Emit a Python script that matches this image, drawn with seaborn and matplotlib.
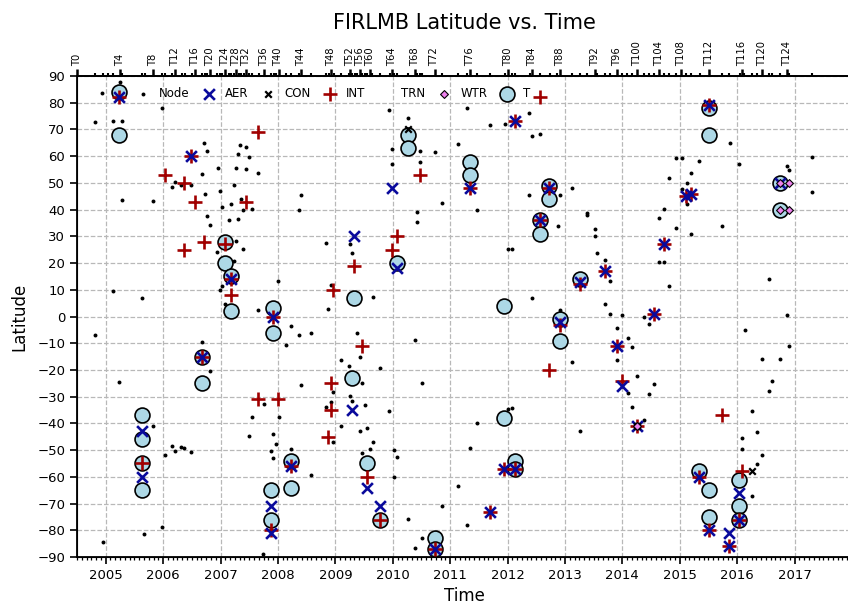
import numpy as np
import pandas as pd
import matplotlib
matplotlib.use("Agg")
import matplotlib.pyplot as plt
import seaborn as sns
from matplotlib.lines import Line2D
from matplotlib.ticker import FixedLocator, MultipleLocator

# ---------------- data ----------------
# Titan flybys (top axis)
flyby_names = ["T0", "TA", "TB", "TC"] + [f"T{i}" for i in range(3, 127)]
flyby_dates = [
    "2004-07-02", "2004-10-26", "2004-12-13", "2005-01-14", "2005-02-15", "2005-03-31",
    "2005-04-16", "2005-08-22", "2005-09-07", "2005-10-28", "2005-12-26", "2006-01-15",
    "2006-02-27", "2006-03-19", "2006-04-30", "2006-05-20", "2006-07-02", "2006-07-22",
    "2006-09-07", "2006-09-23", "2006-10-09", "2006-10-25", "2006-12-12", "2006-12-28",
    "2007-01-13", "2007-01-29", "2007-02-22", "2007-03-10", "2007-03-26", "2007-04-10",
    "2007-04-26", "2007-05-12", "2007-05-28", "2007-06-13", "2007-06-29", "2007-07-19",
    "2007-08-31", "2007-10-02", "2007-11-19", "2007-12-05", "2007-12-20", "2008-01-05",
    "2008-02-22", "2008-03-25", "2008-05-12", "2008-05-28", "2008-07-31", "2008-11-03",
    "2008-11-19", "2008-12-05", "2008-12-21", "2009-02-07", "2009-03-27", "2009-04-04",
    "2009-04-20", "2009-05-05", "2009-05-21", "2009-06-06", "2009-06-22", "2009-07-08",
    "2009-07-24", "2009-08-09", "2009-08-25", "2009-10-12", "2009-12-12", "2009-12-28",
    "2010-01-12", "2010-01-28", "2010-04-05", "2010-05-20", "2010-06-05", "2010-06-21",
    "2010-07-07", "2010-09-24", "2010-11-11", "2011-02-18", "2011-04-19", "2011-05-08",
    "2011-06-20", "2011-09-12", "2011-12-13", "2012-01-02", "2012-01-30", "2012-02-19",
    "2012-05-22", "2012-06-07", "2012-07-24", "2012-09-26", "2012-11-13", "2012-11-29",
    "2013-02-17", "2013-04-05", "2013-05-23", "2013-07-10", "2013-07-26", "2013-09-12",
    "2013-10-14", "2013-12-01", "2014-01-01", "2014-02-02", "2014-03-06", "2014-04-07",
    "2014-05-17", "2014-06-18", "2014-07-20", "2014-08-21", "2014-09-22", "2014-10-24",
    "2014-12-10", "2015-01-11", "2015-02-12", "2015-03-16", "2015-05-07", "2015-07-07",
    "2015-09-28", "2015-11-13", "2016-01-16", "2016-02-01", "2016-02-16", "2016-04-04",
    "2016-05-06", "2016-06-07", "2016-07-25", "2016-08-10", "2016-09-27", "2016-11-14",
    "2016-11-29", "2017-04-22",
]

year_ticks = list(range(2005, 2018))
lat_ticks = list(range(-90, 91, 10))

t_year = [2005.23, 2005.23, 2005.63, 2005.63, 2005.63, 2005.63, 2006.67, 2006.67,
          2007.07, 2007.07, 2007.18, 2007.18, 2007.88, 2007.88, 2007.92, 2007.92,
          2008.22, 2008.22, 2009.29, 2009.33, 2009.56, 2009.77, 2010.07, 2010.26,
          2010.26, 2010.73, 2010.73, 2011.34, 2011.34, 2011.94, 2011.94, 2012.13,
          2012.13, 2012.56, 2012.56, 2012.73, 2012.73, 2012.91, 2012.91, 2013.26,
          2015.34, 2015.51, 2015.51, 2015.51, 2015.51, 2016.03, 2016.03, 2016.03,
          2016.74, 2016.74]
t_lat = [84, 68, -37, -46, -55, -65, -15, -25, 28, 20, 15, 2, -65, -76, 3, -6,
         -54, -64, -23, 7, -55, -76, 20, 68, 63, -83, -87, 58, 53, 4, -38, -54,
         -57, 36, 31, 49, 44, -1, -9, 14, -58, 78, 68, -65, -75, -61, -71, -76,
         50, 40]

aer_year = [2005.23, 2005.63, 2005.63, 2006.49, 2006.67, 2007.18, 2007.88, 2007.88,
            2007.92, 2008.22, 2009.29, 2009.33, 2009.56, 2009.77, 2009.98, 2010.07,
            2010.73, 2011.34, 2011.69, 2011.93, 2012.13, 2012.13, 2012.56, 2012.73,
            2012.91, 2013.26, 2013.70, 2013.91, 2014.0, 2014.26, 2014.55, 2014.72,
            2015.10, 2015.20, 2015.34, 2015.51, 2015.51, 2015.86, 2015.86, 2016.03,
            2016.03, 2016.74]
aer_lat = [82, -43, -60, 60, -15, 14, -71, -81, 0, -56, -35, 30, -64, -71, 48, 18,
           -87, 48, -73, -57, 73, -57, 36, 48, -2, 13, 17, -11, -26, -41, 1, 27,
           45, 46, -60, 79, -80, -81, -86, -66, -76, 50]

int_year = [2005.23, 2005.63, 2006.03, 2006.37, 2006.37, 2006.49, 2006.55, 2006.67,
            2006.72, 2007.07, 2007.18, 2007.18, 2007.44, 2007.66, 2007.66, 2007.88,
            2007.92, 2008.0, 2008.22, 2008.88, 2008.92, 2008.92, 2008.96, 2009.33,
            2009.47, 2009.56, 2009.77, 2009.98, 2010.07, 2010.47, 2010.73, 2011.34,
            2011.69, 2011.93, 2012.13, 2012.13, 2012.56, 2012.56, 2012.73, 2012.73,
            2012.91, 2013.26, 2013.70, 2013.91, 2014.0, 2014.26, 2014.55, 2014.72,
            2015.10, 2015.20, 2015.34, 2015.51, 2015.51, 2015.74, 2015.86, 2016.03,
            2016.08]
int_lat = [82, -55, 53, 50, 25, 60, 43, -15, 28, 27, 14, 8, 43, 69, -31, -80, 0,
           -31, -56, -45, -25, -35, 10, 19, -11, -60, -76, 25, 30, 53, -87, 48, -73,
           -57, 73, -57, 82, 36, 48, -20, -3, 12, 17, -11, -24, -41, 1, 27, 45, 46,
           -60, 79, -80, -37, -86, -76, -58]

con_year = [2010.26, 2014.26, 2016.26]
con_lat = [70, -41, -58]

wtr_year = [2014.26, 2016.74, 2016.74, 2016.91, 2016.91]
wtr_lat = [-41, 50, 40, 50, 40]

node_year = [
    2004.94, 2005.25, 2005.98, 2004.81, 2005.12, 2005.29, 2006.72, 2006.77, 2007.34,
    2007.45, 2007.31, 2007.49, 2006.95, 2007.27, 2007.45, 2007.66, 2006.68, 2006.20,
    2006.15, 2006.32, 2006.49, 2007.23, 2006.73, 2006.99, 2005.29, 2005.82, 2007.03,
    2007.18, 2007.35, 2007.40, 2007.54, 2006.77, 2006.81, 2007.14, 2007.31, 2008.40,
    2008.36, 2007.27, 2007.40, 2006.94, 2007.23, 2008.83, 2005.12, 2005.63, 2007.03,
    2006.99, 2007.07, 2008.0, 2008.92, 2007.66, 2008.88, 2004.81, 2008.22, 2008.36,
    2008.58, 2008.14, 2006.67, 2006.81, 2005.24, 2008.40, 2009.10, 2008.96, 2007.75,
    2007.54, 2008.02, 2008.92, 2008.83, 2009.10, 2005.82, 2007.49, 2007.92, 2007.96,
    2007.88, 2007.92, 2008.96, 2006.15, 2006.20, 2006.32, 2006.37, 2006.49, 2006.03,
    2008.22, 2008.57, 2005.67, 2005.98, 2004.95, 2007.74,
    2009.94, 2010.26, 2011.29, 2011.70, 2011.95, 2012.38, 2012.43, 2012.56, 2011.13,
    2009.98, 2010.47, 2010.73, 2009.98, 2010.47, 2010.86, 2010.42, 2010.42, 2011.47,
    2012.38, 2012.91, 2013.13, 2012.87, 2013.38, 2013.38, 2013.53, 2013.53, 2013.56,
    2013.69, 2009.25, 2009.29, 2012.0, 2012.08, 2009.65, 2012.43, 2012.91, 2013.70,
    2013.78, 2009.38, 2009.43, 2010.38, 2009.23, 2009.47, 2009.78, 2010.51, 2013.13,
    2009.25, 2009.29, 2009.51, 2009.94, 2009.43, 2009.56, 2009.65, 2009.60, 2009.47,
    2010.03, 2010.07, 2010.03, 2011.13, 2011.47, 2012.0, 2012.08, 2011.35, 2013.26,
    2010.86, 2010.26, 2011.29, 2010.51, 2010.38,
    2015.87, 2014.94, 2015.03, 2015.34, 2016.04, 2016.87, 2016.91, 2017.31, 2014.81,
    2015.20, 2015.12, 2015.03, 2015.12, 2014.72, 2014.64, 2014.94, 2015.20, 2015.74,
    2017.31, 2013.78, 2014.64, 2014.72, 2014.81, 2016.56, 2014.0, 2014.37, 2014.46,
    2016.87, 2013.91, 2014.09, 2014.17, 2013.91, 2016.13, 2016.91, 2016.44, 2016.74,
    2014.26, 2014.55, 2014.09, 2014.46, 2016.60, 2016.56, 2014.17, 2016.26, 2014.37,
    2016.35, 2016.09, 2016.09, 2016.44, 2016.35, 2016.26,
]
node_lat = [
    83.5, 87.9, 78.2, 72.8, 73.1, 73.1, 64.8, 61.8, 64.1,
    63.3, 60.8, 59.7, 55.5, 55.6, 55.1, 53.6, 53.5, 50.5,
    48.6, 49.1, 49.1, 49.1, 46.0, 46.9, 43.5, 43.1, 41.1,
    42.0, 43.9, 39.7, 40.1, 37.7, 34.3, 36.0, 36.3, 45.3,
    40.0, 28.4, 25.3, 24.2, 20.6, 27.4, 9.7, 6.9, 11.5,
    10.0, 4.5, 13.1, 11.7, 2.4, 2.7, -6.9, -3.6, -6.9,
    -6.1, -10.6, -9.4, -20.3, -24.6, -25.8, -16.3, -28.3, -32.7,
    -37.7, -37.7, -31.9, -33.8, -40.9, -40.9, -44.9, -44.0, -47.8,
    -50.5, -53.1, -47.1, -48.6, -50.2, -49.0, -49.3, -50.6, -51.7,
    -49.4, -59.5, -81.4, -78.6, -84.2, -89.0,
    77.3, 74.1, 78.1, 71.7, 72.2, 76.1, 67.6, 68.3, 64.7,
    62.6, 61.8, 61.5, 56.9, 57.9, 42.6, 39.2, 35.3, 39.9,
    45.4, 45.4, 48.0, 33.9, 38.9, 37.9, 32.7, 30.2, 23.6,
    21.0, 27.1, 23.8, 25.2, 25.2, 7.2, 7.0, 2.5, 4.6,
    0.9, -6.0, -15.2, -8.9, -18.5, -24.7, -19.2, -24.9, -17.0,
    -29.7, -31.5, -33.2, -35.3, -42.9, -41.9, -47.1, -49.4, -50.9,
    -49.9, -52.5, -60.2, -63.3, -39.9, -34.7, -34.3, -49.3, -42.8,
    -70.8, -75.8, -78.1, -82.8, -86.8,
    65.1, 59.2, 59.2, 58.2, 57.0, 56.4, 54.9, 59.7, 51.7,
    53.7, 50.0, 47.6, 42.0, 40.1, 36.8, 33.3, 31.0, 33.8,
    46.5, 13.3, 20.4, 20.4, 11.5, 14.1, 0.4, -0.2, -2.9,
    0.5, -4.4, -8.0, -11.6, -16.3, -4.9, -11.0, -16.0, -16.0,
    -22.3, -25.2, -28.7, -28.9, -24.3, -27.7, -33.7, -35.3, -38.8,
    -43.4, -45.3, -49.4, -51.9, -55.2, -67.3,
]

# ---------------- figure ----------------
sns.set_style("ticks")
plt.rcParams["font.family"] = ["DejaVu Sans"]
plt.rcParams.update({"text.color": "black", "axes.labelcolor": "black",
                     "xtick.color": "black", "ytick.color": "black",
                     "axes.edgecolor": "black"})

W, H = 848, 606
fig = plt.figure(figsize=(W / 100, H / 100), dpi=100)
ax = fig.add_axes([77 / W, (H - 557) / H, 775 / W, 481 / H])
ax.set_xlim(2004.5, 2018.0)
ax.set_ylim(-90, 90)

ax.grid(True, which="major", linestyle="--", color="#b8b8b8", linewidth=0.9, zorder=0)
ax.set_axisbelow(True)

sns.scatterplot(x=t_year, y=t_lat, ax=ax, marker="o", s=115, color="lightblue",
                edgecolor="black", linewidth=1.2, zorder=2, label="T", legend=False)
sns.scatterplot(x=node_year, y=node_lat, ax=ax, marker="o", s=8, color="black",
                edgecolor="black", linewidth=0, zorder=3, label="Node", legend=False)
sns.scatterplot(x=int_year, y=int_lat, ax=ax, marker="+", s=90, color="#a00000",
                linewidth=1.9, zorder=4, label="INT", legend=False)
sns.scatterplot(x=aer_year, y=aer_lat, ax=ax, marker="x", s=60, color="#0a0a9c",
                linewidth=1.9, zorder=5, label="AER", legend=False)
sns.scatterplot(x=con_year, y=con_lat, ax=ax, marker="x", s=22, color="black",
                linewidth=1.6, zorder=6, label="CON", legend=False)
sns.scatterplot(x=wtr_year, y=wtr_lat, ax=ax, marker="D", s=16, color="violet",
                edgecolor="black", linewidth=0.8, zorder=7, label="WTR", legend=False)

# axes ticks
ax.xaxis.set_major_locator(FixedLocator(year_ticks))
ax.set_xticklabels([str(y) for y in year_ticks])
ax.xaxis.set_minor_locator(MultipleLocator(1 / 12))
ax.set_yticks(lat_ticks)
ax.tick_params(axis="both", which="major", labelsize=9.5, length=5, width=1.2,
               direction="out", colors="black")
ax.tick_params(axis="x", which="minor", length=2.5, width=0.9)
for side in ["left", "bottom"]:
    ax.spines[side].set_linewidth(1.3)
ax.spines["right"].set_visible(False)
ax.spines["top"].set_linewidth(1.3)

ax.set_xlabel("Time", fontsize=12)
ax.set_ylabel("Latitude", fontsize=12, labelpad=6)

# top axis with flybys
fd = pd.to_datetime(flyby_dates)
dec = fd.year + (fd.dayofyear - 1) / np.where(fd.is_leap_year, 366, 365)
maj_pos, maj_lab, min_pos = [], [], []
for n, d in zip(flyby_names, dec):
    if n[1:].isdigit() and int(n[1:]) % 4 == 0:
        maj_pos.append(d)
        maj_lab.append(n)
    else:
        min_pos.append(d)

ax2 = ax.twiny()
ax2.set_xlim(ax.get_xlim())
ax2.set_xticks(maj_pos)
ax2.set_xticklabels(maj_lab, rotation=90, fontsize=7.2)
ax2.set_xticks(min_pos, minor=True)
ax2.tick_params(axis="x", which="major", length=5, width=1.8, pad=2, colors="black")
ax2.tick_params(axis="x", which="minor", length=2.5, width=1.5, colors="black")
ax2.spines["top"].set_linewidth(1.3)
ax2.spines["right"].set_visible(False)
ax2.grid(False)

ax.set_title("FIRLMB Latitude vs. Time", fontsize=15, pad=9)

# legend
hmap = {l: h for h, l in zip(*ax.get_legend_handles_labels())}
hmap["TRN"] = Line2D([], [], linestyle="none", marker=None)
order = ["Node", "AER", "CON", "INT", "TRN", "WTR", "T"]
ax.legend([hmap[k] for k in order], order, ncol=7, loc="center left",
          bbox_to_anchor=(0.071, 0.9626), frameon=False, fontsize=8.5,
          borderaxespad=0, handlelength=1.1, handletextpad=0.8,
          columnspacing=1.1, scatterpoints=1)

fig.savefig("out.png", dpi=100)
